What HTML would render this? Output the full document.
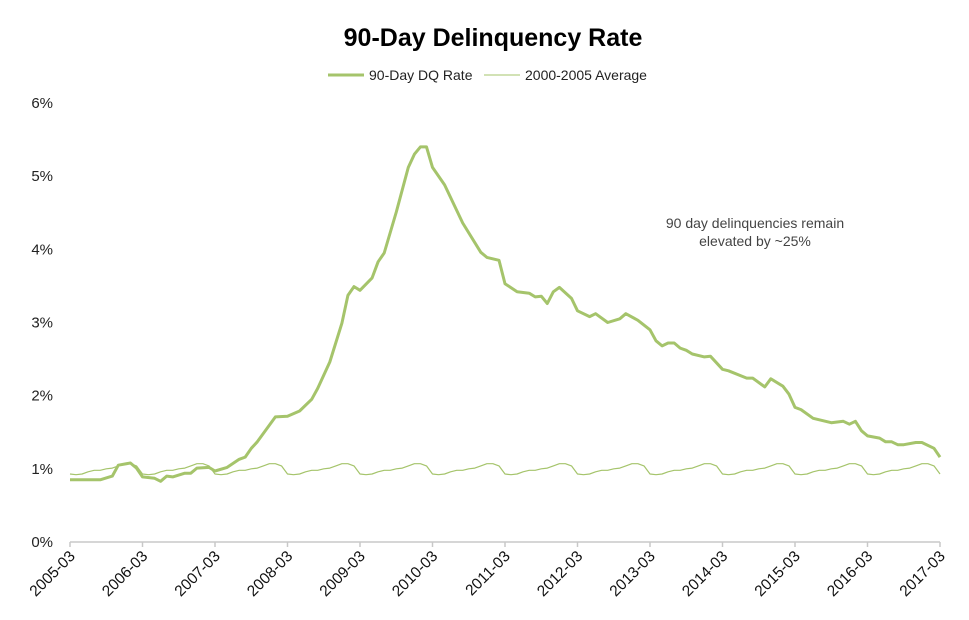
<!DOCTYPE html>
<html><head><meta charset="utf-8"><style>
body{margin:0;background:#fff;}
svg text{font-family:"Liberation Sans",Arial,sans-serif;}
</style></head><body>
<svg id="chart" width="969" height="615" viewBox="0 0 969 615" xmlns="http://www.w3.org/2000/svg">
<text x="493" y="46" text-anchor="middle" font-size="25" font-weight="bold" fill="#000">90-Day Delinquency Rate</text>
<g>
<g><line x1="328" y1="75" x2="364" y2="75" stroke="#A5C46B" stroke-width="3"/><text x="369" y="80" font-size="14" fill="#222">90-Day DQ Rate</text></g>
<g><line x1="484" y1="75" x2="520" y2="75" stroke="#A5C46B" stroke-width="1"/><text x="525" y="80" font-size="14" fill="#222">2000-2005 Average</text></g>
</g>
<g id="yaxis"></g>
<g id="xaxis"></g>
<g id="series"></g>
<text x="755" y="228" text-anchor="middle" font-size="14" fill="#444">90 day delinquencies remain</text>
<text x="755" y="246" text-anchor="middle" font-size="14" fill="#444">elevated by ~25%</text>
</svg>
<script>
const xTickLabels=["2005-03","2006-03","2007-03","2008-03","2009-03","2010-03","2011-03","2012-03","2013-03","2014-03","2015-03","2016-03","2017-03"];
const yTickLabels=["0%","1%","2%","3%","4%","5%","6%"];
const dqMonths=[0,5,7,8,10,11,12,14,15,16,17,19,20,21,23,24,26,28,29,30,31,34,36,38,40,41,43,45,46,47,48,50,51,52,54,56,57,58,59,60,62,65,68,69,71,72,74,76,77,78,79,80,81,83,84,86,87,89,91,92,94,96,97,98,99,100,101,102,103,105,106,108,109,112,113,115,116,118,119,120,121,123,126,128,129,130,131,132,134,135,136,137,138,140,141,143,144];
const dqValues=[0.85,0.85,0.90,1.05,1.08,1.01,0.89,0.87,0.83,0.90,0.89,0.94,0.94,1.01,1.02,0.97,1.02,1.13,1.16,1.28,1.37,1.71,1.72,1.79,1.95,2.10,2.46,2.99,3.37,3.49,3.44,3.61,3.83,3.95,4.51,5.12,5.30,5.40,5.40,5.12,4.88,4.36,3.96,3.89,3.85,3.53,3.42,3.40,3.35,3.36,3.26,3.42,3.48,3.33,3.16,3.08,3.12,3.00,3.05,3.12,3.03,2.90,2.75,2.68,2.72,2.72,2.65,2.62,2.57,2.53,2.54,2.36,2.34,2.24,2.24,2.12,2.23,2.13,2.02,1.84,1.81,1.69,1.63,1.65,1.61,1.65,1.52,1.45,1.42,1.37,1.37,1.33,1.33,1.36,1.36,1.28,1.16];
const avgSeasonal=[0.93,0.92,0.93,0.96,0.98,0.98,1.00,1.01,1.04,1.07,1.07,1.04];
const NS="http://www.w3.org/2000/svg";
const X0=70,X1=940,Y0=542,Ytop=103,MAXM=144,MAXV=6;
const xs=m=>X0+(X1-X0)*m/MAXM;
const ys=v=>Y0-(Y0-Ytop)*v/MAXV;
function mk(tag,attrs,parent){const e=document.createElementNS(NS,tag);for(const k in attrs)e.setAttribute(k,attrs[k]);parent.appendChild(e);return e;}
const ya=document.getElementById('yaxis'),xa=document.getElementById('xaxis'),se=document.getElementById('series');
yTickLabels.forEach((l,i)=>{const t=mk('text',{x:53,y:ys(i)+5,'text-anchor':'end','font-size':15,fill:'#222'},ya);t.textContent=l;

});
mk('line',{x1:X0,y1:Y0,x2:X1,y2:Y0,stroke:'#c8c8c8','stroke-width':1.5},xa);
xTickLabels.forEach((l,i)=>{const x=xs(i*12);mk('line',{x1:x,y1:Y0,x2:x,y2:Y0+5,stroke:'#c8c8c8','stroke-width':1.5},xa);
const t=mk('text',{x:x+6,y:Y0+15,'text-anchor':'end','font-size':15.5,fill:'#111',transform:`rotate(-45 ${x+6} ${Y0+15})`},xa);t.textContent=l;

});
let ap=[];for(let m=0;m<=MAXM;m++)ap.push(xs(m).toFixed(1)+','+ys(avgSeasonal[m%12]).toFixed(1));
const avg=mk('polyline',{points:ap.join(' '),fill:'none',stroke:'#A5C46B','stroke-width':1.2,'stroke-linejoin':'round'},se);


const dp=dqMonths.map((m,i)=>xs(m).toFixed(1)+','+ys(dqValues[i]).toFixed(1));
const dq=mk('polyline',{points:dp.join(' '),fill:'none',stroke:'#A5C46B','stroke-width':3,'stroke-linejoin':'round'},se);


</script>
</body></html>
